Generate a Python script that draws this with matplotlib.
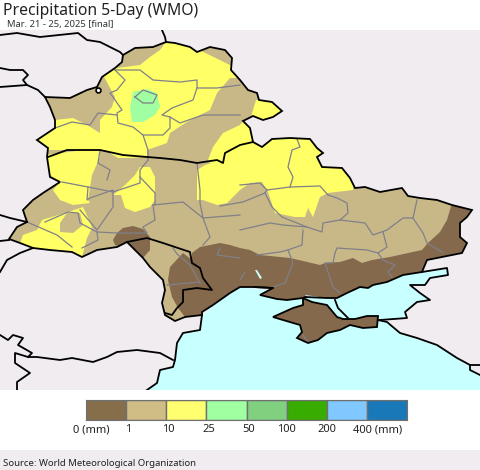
import matplotlib
matplotlib.use("Agg")
import matplotlib.pyplot as plt
from matplotlib.patches import Polygon, Rectangle

# map shapes (x, y in image pixels)
outline = [(166,42),(175,43),(190,47),(197,52),(210,47),(225,50),(232,58),(231,70),(240,80),(248,90),(257,93),
           (259,100),(272,102),(282,111),(273,117),(263,120),(253,116),(243,121),(250,128),(253,142),(262,147),
           (272,139),(290,138),(310,139),(317,148),(323,153),(317,157),(322,167),(342,168),(350,178),(355,188),
           (365,187),(380,192),(402,188),(408,196),(420,198),(437,200),(452,205),(472,210),(467,217),(460,223),
           (460,237),(467,243),(462,253),(427,260),(422,272),(403,275),(387,282),(373,285),(368,288),(360,287),
           (347,293),(337,298),(327,298),(305,297),(303,298),(287,300),(277,299),(260,295),(273,288),(253,287),
           (240,287),(230,293),(213,305),(202,312),(202,315),(185,317),(175,321),(165,315),(162,303),(165,290),
           (163,280),(150,267),(143,258),(133,248),(127,242),(117,247),(97,250),(82,257),(72,252),(50,250),
           (33,248),(20,243),(9,239),(17,227),(27,222),(23,210),(33,200),(43,193),(60,182),(50,177),(47,157),
           (48,148),(37,140),(55,128),(55,120),(50,107),(45,97),(70,98),(87,90),(97,87),(102,77),(115,68),
           (122,62),(123,55),(135,48),(153,47)]
crimea = [(273,317),(293,308),(303,305),(303,298),(312,302),(327,305),(337,317),(343,319),(355,319),(367,316),
          (378,316),(377,327),(363,328),(350,325),(340,330),(327,333),(318,340),(308,343),(297,338),(302,332),
          (300,325),(283,320)]
sea = [(147,390),(157,383),(160,370),(173,367),(175,360),(177,343),(183,333),(200,330),(202,317),(213,305),
       (230,293),(240,287),(337,298),(360,287),(373,285),(403,275),(422,272),(447,268),(448,275),(430,278),
       (425,285),(410,285),(420,293),(430,300),(417,302),(405,312),(407,318),(380,320),(387,322),(400,333),
       (417,338),(437,345),(457,358),(470,367),(480,375),(480,390)]
water_bits = [[(305,295),(327,298),(335,302),(338,308),(348,318),(340,318),(336,312),(327,305),(312,302)],
              [(255,270),(257,270),(262,278),(260,279)]]

green_area = [(133,92),(147,89),(157,93),(160,107),(155,115),(143,122),(132,122),(130,107),(132,98)]
yellow_areas = [
    [(166,42),(175,38),(240,70),(240,78),(230,78),(217,93),(210,110),(187,122),(170,133),(167,143),(147,150),
     (147,157),(130,158),(118,158),(105,150),(100,150),(30,150),(37,130),(53,127),(55,120),(73,118),(87,125),
     (100,133),(100,120),(112,107),(115,97),(103,75),(117,68),(140,65),(150,57),(160,50)],
    [(45,155),(100,148),(100,157),(92,175),(88,200),(90,203),(73,205),(60,200),(53,190),(60,182),(50,175)],
    [(256,100),(272,100),(285,111),(272,120),(250,120)],
    [(240,125),(243,121),(250,128),(253,142),(240,145),(225,153),(223,163),(210,163),(208,160),(213,147),(223,133)],
    [(197,170),(197,200),(203,200),(217,205),(227,203),(240,190),(250,183),(262,182),(268,192),(275,213),
     (295,217),(305,217),(308,208),(313,217),(320,197),(328,193),(353,190),(353,170),(320,130),(250,130),
     (240,145),(223,155),(222,160),(205,165)],
    [(140,167),(150,167),(155,177),(155,200),(150,207),(135,212),(125,208),(121,195),(113,195),(125,185),(135,175)],
    [(20,243),(23,235),(37,230),(42,220),(55,216),(68,212),(83,207),(90,222),(92,228),(87,238),(82,257),(70,252),(33,248)],
]
tan_island = [(60,223),(67,213),(80,213),(83,225),(73,233),(60,232)]
brown_areas = [
    [(452,203),(480,203),(480,300),(240,345),(185,330),(185,317),(178,308),(172,297),(168,280),(170,267),(183,253),
     (192,260),(192,253),(200,247),(220,243),(230,245),(240,248),(250,250),(260,255),(290,258),(320,265),(325,263),
     (340,262),(353,258),(362,263),(372,260),(390,257),(422,250),(428,243),(440,232),(447,220)],
    [(113,240),(115,245),(133,250),(143,258),(150,250),(150,237),(143,229),(133,226),(123,228),(117,233)],
]

borders = [
    [(0,35),(17,33),(40,37),(78,33),(87,40),(100,42),(120,52),(123,55)],
    [(162,30),(165,37),(166,42)],
    [(0,68),(10,70),(23,70),(28,75),(23,80),(27,85),(0,87)],
    [(27,85),(38,90),(45,97)],
    [(0,215),(10,218),(27,222)],
    [(0,241),(9,240)],
    [(0,272),(7,260),(20,253),(33,248)],
    [(0,335),(8,340),(13,335),(23,338),(18,345),(32,353),(28,357),(37,357),(60,360),(72,358),(93,362),(107,357),
     (117,352),(137,350),(160,353),(173,360)],
    [(28,357),(15,353),(15,363),(30,373),(17,382),(17,390)],
    [(202,315),(200,330),(183,333),(177,343),(175,360),(173,367),(160,370),(157,383),(147,390)],
    [(48,157),(67,150),(100,150),(123,155),(147,157),(160,158),(180,160),(197,163),(217,160),(223,163),(225,153),(240,145),(253,142)],
    [(127,242),(147,238),(163,243),(190,252),(192,263),(200,268),(203,278),(212,290),(197,288),(183,290),(183,302),(177,308),(172,315),(165,313)],
    [(422,272),(447,268),(448,275),(430,278),(425,285),(410,285),(420,293),(430,300),(417,302),(405,312),(407,318),(380,320)],
    [(378,320),(387,322),(400,333),(417,338),(437,345),(457,358),(470,365),(480,365)],
    [(470,365),(470,370),(480,375)],
    [(335,300),(338,308),(348,318)],
    [(255,287),(273,288)],
]
admin_lines = [
    [(115,70),(140,70),(153,80),(180,82),(197,80),(197,88),(217,88),(240,85)],
    [(197,88),(193,100),(172,108),(162,115),(170,117),(170,128),(163,135),(143,135),(133,127),(118,123),(117,113),
     (122,110),(115,100),(110,93),(117,90),(125,80),(115,70)],
    [(135,97),(143,90),(157,95),(153,103),(143,103),(135,97)],
    [(117,115),(98,113),(90,125),(72,122),(55,128)],
    [(170,117),(180,123),(203,115),(240,115)],
    [(143,135),(148,150),(148,160)],
    [(100,150),(98,163),(110,170),(107,180)],
    [(148,160),(140,170),(140,183),(113,192),(88,187),(62,182)],
    [(88,187),(87,200),(90,198),(113,190),(113,207),(97,230),(80,210)],
    [(140,177),(155,193),(155,205)],
    [(197,163),(200,190),(200,203),(203,218),(210,237),(203,245)],
    [(153,205),(155,220),(143,227),(147,233),(117,233),(97,232),(98,240),(82,248)],
    [(153,205),(183,202),(203,218),(240,215)],
    [(27,222),(57,235),(72,247)],
    [(45,222),(68,212),(78,213),(80,223),(97,232)],
    [(220,248),(217,255),(240,258)],
    [(173,248),(177,254),(190,265),(200,283)],
    [(167,285),(200,282)],
    [(240,185),(260,183),(267,190),(290,187),(320,186),(328,195)],
    [(290,187),(293,177),(288,167),(292,150),(300,147),(297,139)],
    [(267,190),(265,193),(243,202),(220,206)],
    [(265,193),(272,207),(282,217),(307,227),(322,232),(323,223),(340,220),(348,213),(347,203),(337,198),(328,195)],
    [(340,220),(365,223),(373,235),(387,230),(403,218),(413,218),(417,200)],
    [(413,218),(423,233),(427,243),(442,252),(443,253)],
    [(240,230),(270,223),(283,225),(307,227)],
    [(303,230),(302,245),(288,250),(280,252),(257,255)],
    [(383,232),(387,247),(378,253),(367,250),(337,248),(335,253),(333,263),(325,263),(333,287),(340,293)],
    [(288,250),(293,263),(285,283),(273,287)],
    [(378,253),(383,260),(395,265),(388,272),(392,277)],
    [(240,280),(245,272)],
    [(303,335),(308,342)],
]

legend_colors = ["#866e4b", "#cfbd85", "#ffff70", "#a0ffa0", "#80d080", "#38ac00", "#80c8ff", "#1878b8"]
legend_labels = ["0 (mm)", "1", "10", "25", "50", "100", "200", "400 (mm)"]
legend_ticks = [0.12, 1.05, 2.04, 3.07, 4.04, 4.99, 6.01, 7.26]

LAND = "#f0ecf0"
SEA = "#c8ffff"
TAN = "#c8b888"
BROWN = "#84694c"
YELLOW = "#ffff66"
GREEN = "#a0ffa0"

plt.rcParams['font.family'] = ['Noto Sans', 'DejaVu Sans']

fig = plt.figure(figsize=(4.8, 4.7), dpi=100)

ax = fig.add_axes([0, 80/470, 1, 360/470])
ax.set_xlim(0, 480)
ax.set_ylim(390, 30)
ax.axis("off")
ax.add_patch(Rectangle((0, 30), 480, 360, fc=LAND, ec="none", zorder=0))
ax.add_patch(Polygon(sea, fc=SEA, ec="none", zorder=1))

clip = Polygon(outline, transform=ax.transData)
ax.add_patch(Polygon(outline, fc=TAN, ec="none", zorder=2))
for area, col, z in ([(a, YELLOW, 3) for a in yellow_areas] + [(tan_island, TAN, 4), (green_area, GREEN, 4)]
                     + [(a, BROWN, 5) for a in brown_areas]):
    p = ax.add_patch(Polygon(area, fc=col, ec="none", zorder=z))
    p.set_clip_path(clip)
ax.add_patch(Polygon(crimea, fc=BROWN, ec="none", zorder=5))
for w in water_bits:
    ax.add_patch(Polygon(w, fc=SEA, ec="none", zorder=6))

for line in admin_lines:
    xs, ys = zip(*line)
    ax.plot(xs, ys, color="#808088", lw=0.9, zorder=7)
for line in borders:
    xs, ys = zip(*line)
    ax.plot(xs, ys, color="black", lw=1.3, zorder=8)
for shape in (outline, crimea):
    ax.add_patch(Polygon(shape, fc="none", ec="black", lw=1.3, zorder=8))
ax.plot([98], [90], "o", ms=3.5, mfc="white", mec="black", mew=1.2, zorder=9)

# colour bar
ax_leg = fig.add_axes([86/480, 50/470, 321/480, 20/470])
ax_leg.bar(range(8), [1]*8, width=1, align="edge", color=legend_colors, edgecolor="#707070", lw=1)
ax_leg.set_xlim(0, 8)
ax_leg.set_ylim(0, 1)
ax_leg.set_yticks([])
ax_leg.set_xticks(legend_ticks)
ax_leg.set_xticklabels(legend_labels, fontsize=8, color="#222222")
ax_leg.tick_params(axis="x", length=0, pad=3)
for s in ax_leg.spines.values():
    s.set_color("#707070")

fig.text(3/480, 1-15/470, "Precipitation 5-Day (WMO)", fontsize=11.3, va="baseline", color="#222222")
fig.text(7/480, 1-27/470, "Mar. 21 - 25, 2025 [final]", fontsize=6.8, va="baseline", color="#333333")
fig.patches.append(Rectangle((0, 0), 1, 20/470, transform=fig.transFigure, fc=LAND, ec="none"))
fig.text(3/480, 1-466/470, "Source: World Meteorological Organization", fontsize=6.9, va="baseline", color="#222222")

fig.savefig("out.png", dpi=100)
